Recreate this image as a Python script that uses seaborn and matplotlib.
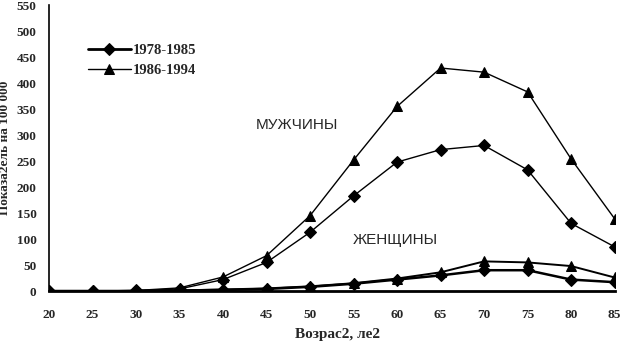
import numpy as np
import pandas as pd
import matplotlib
matplotlib.use('Agg')
import matplotlib.pyplot as plt
import seaborn as sns

ages = [20, 25, 30, 35, 40, 45, 50, 55, 60, 65, 70, 75, 80, 85]
men_1978 = [0, 0, 1, 4, 22, 55, 113, 183, 248, 272, 280, 233, 130, 85]
men_1986 = [0, 0, 1, 6, 27, 68, 145, 252, 355, 429, 421, 383, 254, 139]
women_1978 = [0, 0, 0, 1, 2, 4, 8, 14, 22, 30, 40, 40, 22, 17]
women_1986 = [0, 0, 0, 1, 3, 5, 9, 15, 24, 36, 57, 55, 48, 26]
yticks = list(range(0, 551, 50))

sns.set_style('white')
plt.rcParams['font.family'] = ['Liberation Serif', 'DejaVu Serif']
plt.rcParams['font.weight'] = 'bold'

fig = plt.figure(figsize=(6.25, 3.41), dpi=100)
ax = fig.add_axes([0.0784, 0.1466, 0.905, 0.8384])

df = pd.DataFrame({'age': ages, 'm78': men_1978, 'm86': men_1986,
                   'w78': women_1978, 'w86': women_1986})

sns.lineplot(data=df, x='age', y='m78', ax=ax, color='black', lw=1.0,
             marker='D', markersize=6, markeredgecolor='black', label='1978-1985')
sns.lineplot(data=df, x='age', y='m86', ax=ax, color='black', lw=1.0,
             marker='^', markersize=7.5, markeredgecolor='black', label='1986-1994')
sns.lineplot(data=df, x='age', y='w78', ax=ax, color='black', lw=1.8,
             marker='D', markersize=6, markeredgecolor='black', legend=False)
sns.lineplot(data=df, x='age', y='w86', ax=ax, color='black', lw=1.4,
             marker='^', markersize=7.5, markeredgecolor='black', legend=False)

ax.set_xlim(20, 85)
ax.set_ylim(0, 550)
ax.set_xticks(ages)
ax.set_yticks(yticks)
ax.tick_params(axis='y', direction='out', length=6, width=1, pad=3, color='black',
               labelsize=9.5)
ax.tick_params(axis='x', direction='inout', length=8, width=1, pad=9, color='black',
               labelsize=9.5)
for s in ['top', 'right']:
    ax.spines[s].set_visible(False)
for s in ['left', 'bottom']:
    ax.spines[s].set_color('black')
    ax.spines[s].set_linewidth(1.2)
ax.spines['bottom'].set_linewidth(2)

ax.set_xlabel('Возрас2, ле2', fontsize=11, fontweight='bold')
ax.xaxis.set_label_coords(0.51, -0.13)
ax.set_ylabel('Показа2ель на 100 000', fontsize=9.5, fontweight='bold', labelpad=4)

ax.text(48.5, 319, 'МУЖЧИНЫ', family=['Liberation Sans', 'DejaVu Sans'], fontsize=11,
        fontweight='normal', ha='center', va='center')
ax.text(59.8, 98, 'ЖЕНЩИНЫ', family=['Liberation Sans', 'DejaVu Sans'], fontsize=11,
        fontweight='normal', ha='center', va='center')

leg = ax.legend(loc='upper left', bbox_to_anchor=(0.045, 0.91), frameon=False,
                prop={'weight': 'bold', 'size': 10.5}, handlelength=3.0, handletextpad=0.1,
                labelspacing=0.45)
leg.get_lines()[0].set_linewidth(2)

fig.savefig('out.png', dpi=100)
